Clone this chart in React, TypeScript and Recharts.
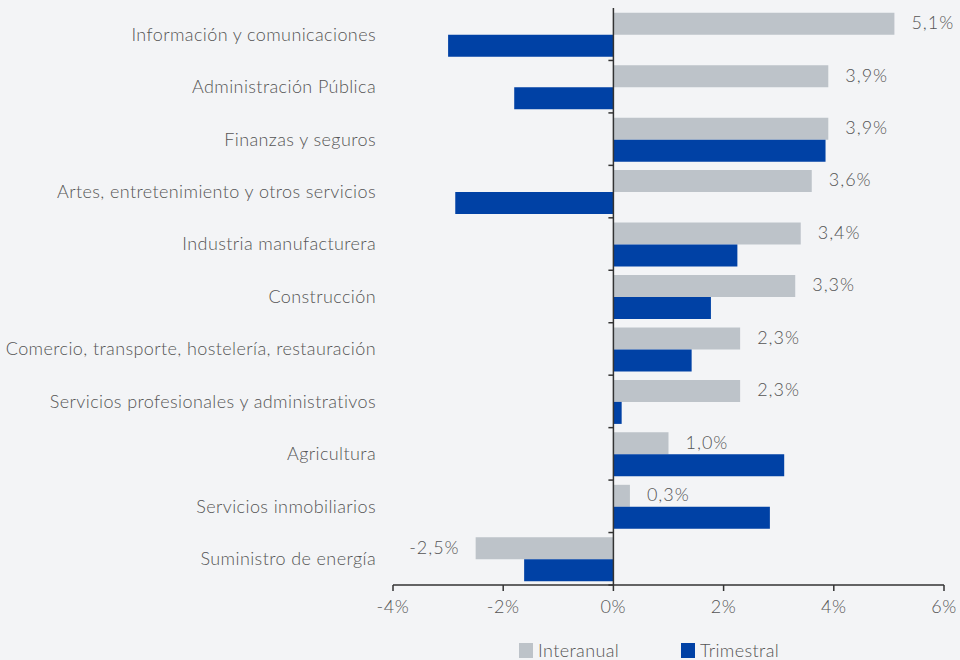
import { Bar, BarChart, LabelList, ReferenceLine, XAxis, YAxis } from "recharts"

const sectors = [
  "Información y comunicaciones",
  "Administración Pública",
  "Finanzas y seguros",
  "Artes, entretenimiento y otros servicios",
  "Industria manufacturera",
  "Construcción",
  "Comercio, transporte, hostelería, restauración",
  "Servicios profesionales y administrativos",
  "Agricultura",
  "Servicios inmobiliarios",
  "Suministro de energía",
]
const interanual = [5.1, 3.9, 3.9, 3.6, 3.4, 3.3, 2.3, 2.3, 1.0, 0.3, -2.5]
const trimestral = [-3.0, -1.8, 3.85, -2.87, 2.25, 1.77, 1.42, 0.15, 3.1, 2.84, -1.62]
const xTicks = [-4, -2, 0, 2, 4, 6]

const GRAY = "#bdc3c9"
const BLUE = "#0041a5"
const TEXT = "#555"
const FONT = "Lato, 'Open Sans', sans-serif"

const data = sectors.map((name, i) => ({
  name,
  interanual: interanual[i],
  trimestral: trimestral[i],
}))

const fmt = (v: number) => `${v.toFixed(1).replace(".", ",")}%`

function ValueLabel(props: any) {
  const { x, y, width, height, value } = props
  const neg = value < 0
  return (
    <text
      x={neg ? x + width - 16 : x + width + 17}
      y={y + height / 2}
      dy="0.3em"
      textAnchor={neg ? "end" : "start"}
      fontSize={18}
      fontWeight={300}
      letterSpacing={1}
      fill={TEXT}
      fontFamily={FONT}
    >
      {fmt(value)}
    </text>
  )
}

function ZeroAxis(props: any) {
  const { x1, y1, y2 } = props
  const n = sectors.length
  const step = (y2 - y1) / n
  const marks = Array.from({ length: n }, (_, i) => y1 + i * step)
  return (
    <g>
      <line x1={x1} y1={y1} x2={x1} y2={y2} stroke="#333" strokeWidth={1.5} />
      {marks.map((m) => (
        <line key={m} x1={x1 - 5} y1={m} x2={x1} y2={m} stroke="#333" strokeWidth={1.5} />
      ))}
    </g>
  )
}

function LegendBox() {
  const items = [
    { label: "Interanual", color: GRAY, left: 519 },
    { label: "Trimestral", color: BLUE, left: 681 },
  ]
  return (
    <>
      {items.map((it) => (
        <div
          key={it.label}
          style={{
            position: "absolute",
            left: it.left,
            top: 639,
            display: "flex",
            alignItems: "center",
            fontFamily: FONT,
            fontWeight: 300,
            fontSize: 18,
            letterSpacing: 0.4,
            color: TEXT,
          }}
        >
          <span style={{ width: 14, height: 15, background: it.color, marginRight: 5 }} />
          {it.label}
        </div>
      ))}
    </>
  )
}

export default function App() {
  return (
    <div style={{ position: "absolute", left: 0, top: 0, width: 960, height: 660, background: "#f3f4f6" }}>
      <BarChart
        width={960}
        height={660}
        data={data}
        layout="vertical"
        margin={{ top: 8, right: 16, bottom: 45, left: 0 }}
        barCategoryGap="9%"
        barGap={0}
      >
        <XAxis
          type="number"
          domain={[-4, 6]}
          ticks={xTicks}
          interval={0}
          tickFormatter={(v) => `${v}%`}
          axisLine={{ stroke: "#333", strokeWidth: 1.5 }}
          tickLine={{ stroke: "#333", strokeWidth: 1.5 }}
          tickSize={6}
          tickMargin={9}
          height={30}
          tick={{ fill: TEXT, fontSize: 18, fontFamily: FONT, fontWeight: 300, letterSpacing: 0.6 }}
        />
        <YAxis
          type="category"
          dataKey="name"
          width={393}
          axisLine={false}
          tickLine={false}
          tickSize={0}
          tickMargin={17}
          interval={0}
          tick={{ fill: TEXT, fontSize: 18, fontFamily: FONT, fontWeight: 300, letterSpacing: 0.4 }}
        />
        <Bar dataKey="interanual" name="Interanual" fill={GRAY} isAnimationActive={false}>
          <LabelList dataKey="interanual" content={ValueLabel} />
        </Bar>
        <Bar dataKey="trimestral" name="Trimestral" fill={BLUE} isAnimationActive={false} />
        <ReferenceLine x={0} shape={ZeroAxis} />
      </BarChart>
      <LegendBox />
    </div>
  )
}
